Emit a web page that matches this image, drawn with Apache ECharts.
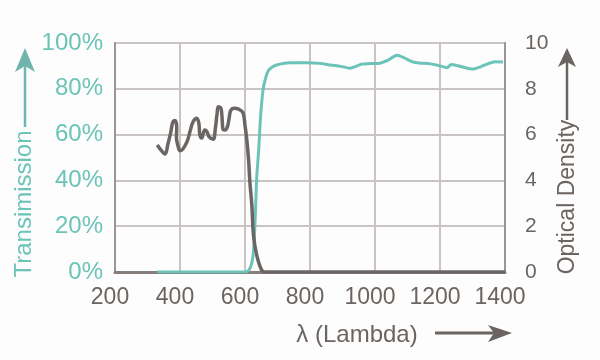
<!DOCTYPE html>
<html>
<head>
<meta charset="utf-8">
<script src="https://cdn.jsdelivr.net/npm/echarts@6/dist/echarts.min.js"></script>
<style>html,body{margin:0;padding:0;background:#fdfdfd;}#c{width:600px;height:360px;}</style>
</head>
<body>
<div id="c"></div>
<script>
const xTicks = [200, 400, 600, 800, 1000, 1200, 1400];
const transTicks = [0, 20, 40, 60, 80, 100];
const odTicks = [0, 2, 4, 6, 8, 10];

const transWavelength = [330, 450, 600, 608, 615, 621, 626, 631, 636, 642, 648, 656, 664, 672, 684, 697, 715, 738, 769, 790, 831, 861, 895, 923, 945, 960, 985, 1015, 1040, 1068, 1090, 1117, 1140, 1163, 1200, 1221, 1235, 1246, 1270, 1302, 1325, 1345, 1369, 1394];
const transValue =      [0,   0,   0,   0.3, 1.5, 4,   9,   22,  41,  53,  68,  80,  85,  88,  89.5,90.4,91,  91.4,91.4,91.4,91.1,90.4,89.8,89,  90,  90.8,91,  91.2,92.5,94.7,93.5,91.7,91.2,91,  90,  89.2,90.6,90.4,89.5,88.6,89.6,90.8,91.8,91.7];

const odWavelength = [330, 343, 354, 363, 371, 378, 384, 390, 389, 394, 400, 408, 422, 432, 440, 451, 458, 461, 467, 476, 482, 490, 502, 509, 514, 518, 526, 530, 532, 538, 546, 552, 556, 566, 582, 594, 600, 605, 611, 615, 621, 626, 636, 651, 662, 800, 1000, 1200, 1400];
const odValue =      [5.55,5.3, 5.15,5.6, 6.06,6.55,6.62,6.3, 5.9, 5.5, 5.3, 5.35,5.7, 6.2, 6.55,6.71,6.5, 6.0, 5.85,6.2, 6.15,5.9, 5.8, 6.3, 6.9, 7.22,7.15,6.6, 6.25,6.2, 6.35,6.8, 7.05,7.15,7.1, 6.95,6.4, 5.85,4.9, 3.93,2.93,1.62,0.74,0.09,0,   0,   0,    0,    0];

const teal = '#6cc4b8';
const gray = '#6b6460';

const chart = echarts.init(document.getElementById('c'), null, {renderer: 'canvas'});
const font = '"Liberation Sans", Arial, sans-serif';

chart.setOption({
  backgroundColor: '#fdfdfd',
  animation: false,
  grid: {left: 115, right: 95, top: 43, bottom: 88, show: true, borderColor: '#9c9692', borderWidth: 2, containLabel: false, outerBoundsMode: 'none'},
  xAxis: {
    type: 'value', min: xTicks[0], max: xTicks[xTicks.length - 1], interval: 200,
    axisLine: {show: true, lineStyle: {color: '#857e7a', width: 3}},
    axisTick: {show: false},
    splitLine: {show: true, lineStyle: {color: '#c9c4c1', width: 2}},
    axisLabel: {color: gray, fontSize: 23, fontFamily: font, margin: 14, padding: [0, 10, 0, 0], formatter: v => String(v)}
  },
  yAxis: [
    {
      type: 'value', min: 0, max: 100, interval: 20, position: 'left',
      axisLine: {show: true, lineStyle: {color: '#9c9692', width: 2}},
      axisTick: {show: false},
      splitLine: {show: true, lineStyle: {color: '#c9c4c1', width: 2}},
      axisLabel: {color: teal, fontSize: 24, fontFamily: font, margin: 12, formatter: '{value}%'}
    },
    {
      type: 'value', min: 0, max: 10, interval: 2, position: 'right',
      axisLine: {show: true, lineStyle: {color: '#9c9692', width: 2}},
      axisTick: {show: false},
      splitLine: {show: false},
      axisLabel: {color: gray, fontSize: 21, fontFamily: font, margin: 20}
    }
  ],
  series: [
    {
      type: 'line', yAxisIndex: 0, showSymbol: false, smooth: 0.3,
      lineStyle: {color: teal, width: 3},
      data: transWavelength.map((w, i) => [w, transValue[i]])
    },
    {
      type: 'line', yAxisIndex: 1, showSymbol: false, smooth: 0.4,
      lineStyle: {color: '#6b6663', width: 3.5},
      data: odWavelength.map((w, i) => [w, odValue[i]])
    }
  ],
  graphic: [
    {type: 'text', x: 24, y: 204, rotation: Math.PI / 2, style: {text: 'Transimission', fill: teal, font: '24px ' + font, align: 'center', verticalAlign: 'middle'}},
    {type: 'line', shape: {x1: 25, y1: 127, x2: 25, y2: 64}, style: {stroke: '#6fb5ab', lineWidth: 2.5}},
    {type: 'polygon', shape: {points: [[25, 48], [35, 72], [25, 66], [15, 72]]}, style: {fill: '#6fb5ab'}},
    {type: 'text', x: 568, y: 197, rotation: Math.PI / 2, style: {text: 'Optical Density', fill: gray, font: '23px ' + font, align: 'center', verticalAlign: 'middle'}},
    {type: 'line', shape: {x1: 567, y1: 120, x2: 567, y2: 62}, style: {stroke: gray, lineWidth: 2.5}},
    {type: 'polygon', shape: {points: [[567, 48], [576, 67], [567, 62], [558, 67]]}, style: {fill: gray}},
    {type: 'text', x: 357, y: 335, style: {text: 'λ (Lambda)', fill: gray, font: '24px ' + font, align: 'center', verticalAlign: 'middle'}},
    {type: 'line', shape: {x1: 435, y1: 333, x2: 498, y2: 333}, style: {stroke: gray, lineWidth: 3}},
    {type: 'polygon', shape: {points: [[512, 333], [488, 325], [494, 333], [488, 342]]}, style: {fill: gray}}
  ]
});
</script>
</body>
</html>
